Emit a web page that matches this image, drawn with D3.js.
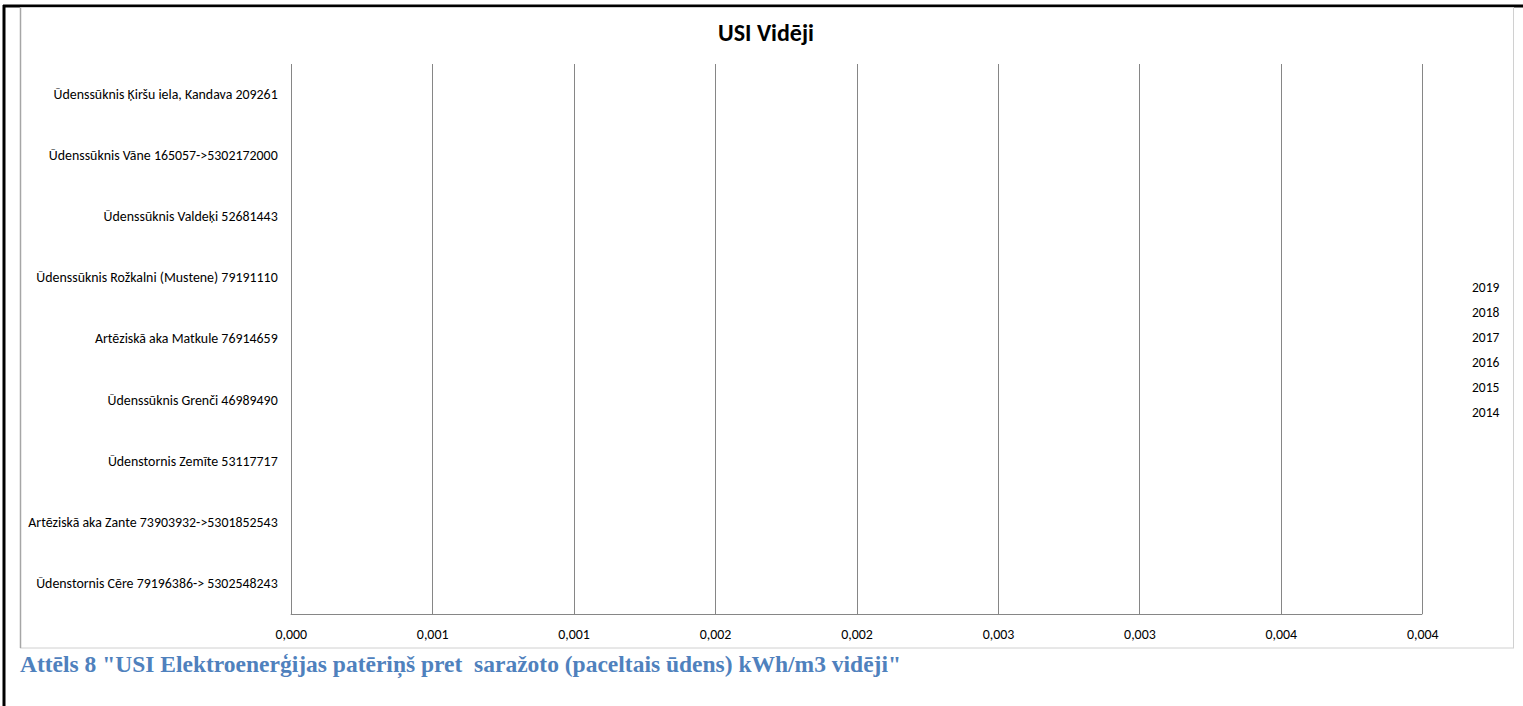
<!DOCTYPE html>
<html>
<head>
<meta charset="utf-8">
<script src="https://cdn.jsdelivr.net/npm/d3@7/dist/d3.min.js"></script>
<style>
  html, body { margin: 0; padding: 0; background: #fff; }
  svg { display: block; }
  .lbl { font-family: Carlito, Calibri, Lato, "Open Sans", sans-serif; fill: #000; }
</style>
</head>
<body>
<svg id="chart" width="1523" height="706"></svg>
<script>
// Pumping stations, listed top to bottom
const categories = [
  "Ūdenssūknis Ķiršu iela, Kandava 209261",
  "Ūdenssūknis Vāne 165057->5302172000",
  "Ūdenssūknis Valdeķi 52681443",
  "Ūdenssūknis Rožkalni (Mustene) 79191110",
  "Artēziskā aka Matkule 76914659",
  "Ūdenssūknis Grenči 46989490",
  "Ūdenstornis Zemīte 53117717",
  "Artēziskā aka Zante 73903932->5301852543",
  "Ūdenstornis Cēre 79196386-> 5302548243"
];

// Yearly averages (kWh/m3), one array per year, in category order
const years = ["2019", "2018", "2017", "2016", "2015", "2014"];
const v2019 = [0, 0, 0, 0, 0, 0, 0, 0, 0];
const v2018 = [0, 0, 0, 0, 0, 0, 0, 0, 0];
const v2017 = [0, 0, 0, 0, 0, 0, 0, 0, 0];
const v2016 = [0, 0, 0, 0, 0, 0, 0, 0, 0];
const v2015 = [0, 0, 0, 0, 0, 0, 0, 0, 0];
const v2014 = [0, 0, 0, 0, 0, 0, 0, 0, 0];
const seriesValues = [v2019, v2018, v2017, v2016, v2015, v2014];
const seriesColors = ["#4f81bd", "#c0504d", "#9bbb59", "#8064a2", "#4bacc6", "#f79646"];

// Value axis ticks and their printed labels (three decimals, comma separator)
const tickValues = [0, 0.0005, 0.001, 0.0015, 0.002, 0.0025, 0.003, 0.0035, 0.004];
const tickLabels = ["0,000", "0,001", "0,001", "0,002", "0,002", "0,003", "0,003", "0,004", "0,004"];

const chartTitle = "USI Vidēji";
const caption = "Attēls 8 \"USI Elektroenerģijas patēriņš pret  saražoto (paceltais ūdens) kWh/m3 vidēji\"";

const svg = d3.select("#chart");

// Page frame (black) and chart area border
svg.append("line").attr("x1", 4).attr("x2", 4).attr("y1", 5).attr("y2", 706)
  .attr("stroke", "#000").attr("stroke-width", 3);
svg.append("line").attr("x1", 3).attr("x2", 1523).attr("y1", 6).attr("y2", 6)
  .attr("stroke", "#000").attr("stroke-width", 3);
svg.append("rect").attr("x", 20.5).attr("y", 7.5).attr("width", 1493).attr("height", 640.5)
  .attr("fill", "#fff").attr("stroke", "#d0d0d0").attr("stroke-width", 1);
svg.append("line").attr("x1", 20.5).attr("x2", 20.5).attr("y1", 7.5).attr("y2", 648)
  .attr("stroke", "#a6a6a6").attr("stroke-width", 1.5);

const plot = { left: 290.7, right: 1422.3, top: 64, bottom: 614 };

const x = d3.scaleLinear().domain([0, 0.004]).range([plot.left, plot.right]);
const y = d3.scaleBand().domain(categories).range([plot.top, plot.bottom]);
const inner = d3.scaleBand().domain(years).range([0, y.bandwidth()]).paddingOuter(0.75);

// Vertical gridlines
svg.append("g").selectAll("line").data(tickValues).join("line")
  .attr("x1", d => Math.round(x(d)) + 0.5).attr("x2", d => Math.round(x(d)) + 0.5)
  .attr("y1", plot.top).attr("y2", plot.bottom)
  .attr("stroke", "#868686").attr("stroke-width", 1);

// Bars
const barG = svg.append("g");
years.forEach((yr, si) => {
  barG.append("g").selectAll("rect").data(seriesValues[si]).join("rect")
    .attr("x", x(0))
    .attr("y", (d, i) => y(categories[i]) + inner(yr))
    .attr("width", d => x(d) - x(0))
    .attr("height", inner.bandwidth())
    .attr("fill", seriesColors[si]);
});

// Bottom axis
const xAxis = d3.axisBottom(x).tickValues(tickValues)
  .tickFormat((d, i) => tickLabels[i]).tickSize(0).tickPadding(14.5);
const gx = svg.append("g").attr("transform", `translate(0,${plot.bottom + 0.5})`).call(xAxis);
gx.select(".domain").attr("stroke", "#868686").attr("d", `M${plot.left},0H${plot.right}`);
gx.selectAll("text").attr("class", "lbl").style("font-size", "13.9px").attr("fill", "#000");

// Category axis
const yAxis = d3.axisLeft(y).tickSize(0).tickPadding(13);
const gy = svg.append("g").attr("transform", `translate(${plot.left},0)`).call(yAxis);
gy.select(".domain").remove();
gy.selectAll("text").attr("class", "lbl").style("font-size", "13.9px").attr("fill", "#000");

// Title
svg.append("text").attr("class", "lbl").attr("x", 766).attr("y", 41)
  .attr("text-anchor", "middle").style("font-size", "24px").style("font-weight", "bold")
  .text(chartTitle);

// Legend (text entries only)
svg.append("g").selectAll("text").data(years).join("text")
  .attr("class", "lbl").attr("x", 1472).attr("y", (d, i) => 287 + i * 25)
  .attr("dy", "0.35em").style("font-size", "13.5px").text(d => d);

// Figure caption
svg.append("text").attr("x", 20).attr("y", 672)
  .style("font-family", "'Times New Roman', 'Liberation Serif', serif")
  .style("font-weight", "bold").style("font-size", "23.5px").style("white-space", "pre")
  .attr("fill", "#4f81bd")
  .text(caption);
</script>
</body>
</html>
